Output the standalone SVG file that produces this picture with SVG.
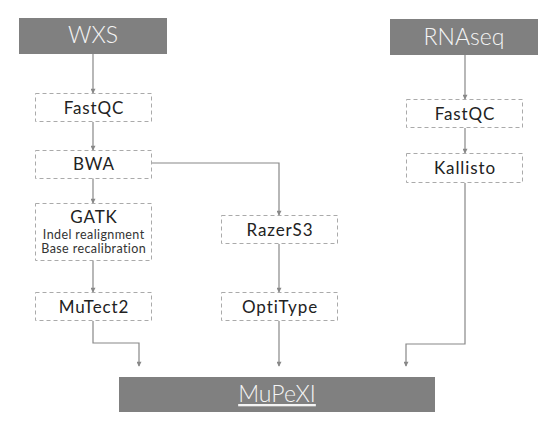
<svg xmlns="http://www.w3.org/2000/svg" width="556" height="431" viewBox="0 0 556 431">
<style>
.hdr{fill:#808080}
.ht{fill:#f4f4f4;font-family:Lato,"Noto Sans",sans-serif;font-weight:300;text-anchor:middle}
.box{fill:#fff;stroke:#aaa;stroke-width:1;stroke-dasharray:4,3}
.t{fill:#222;font-family:Lato,"Noto Sans",sans-serif;font-weight:400;font-size:17px;letter-spacing:0.9px;text-anchor:middle}
.s{font-size:12.5px;letter-spacing:0.4px;fill:#333}
.c{fill:none;stroke:#888;stroke-width:1.2}
</style>
<defs>
<marker id="a" markerUnits="userSpaceOnUse" markerWidth="6" markerHeight="5" refX="5" refY="3" orient="auto" viewBox="0 0 6 6">
<path d="M0,0 L6,3 L0,6 z" fill="#888"/>
</marker>
</defs>
<rect width="556" height="431" fill="#fff"/>
<g id="connectors">
<path class="c" d="M93,54 V93" marker-end="url(#a)"/>
<path class="c" d="M93,122 V150" marker-end="url(#a)"/>
<path class="c" d="M93,178 V203" marker-end="url(#a)"/>
<path class="c" d="M93,261 V292" marker-end="url(#a)"/>
<path class="c" d="M93,321 V343 H139 V366" marker-end="url(#a)"/>
<path class="c" d="M152,163 H279 V215" marker-end="url(#a)"/>
<path class="c" d="M279,244 V292" marker-end="url(#a)"/>
<path class="c" d="M279,321 V366" marker-end="url(#a)"/>
<path class="c" d="M465,55 V99" marker-end="url(#a)"/>
<path class="c" d="M465,128 V153" marker-end="url(#a)"/>
<path class="c" d="M465,183 V344 H406 V366" marker-end="url(#a)"/>
</g>
<g id="wxs">
<rect class="hdr" x="19" y="18" width="148" height="36"/>
<text class="ht" x="93" y="43" font-size="23">WXS</text>
</g>
<g id="rnaseq">
<rect class="hdr" x="390" y="19" width="148" height="36"/>
<text class="ht" x="464" y="45" font-size="23">RNAseq</text>
</g>
<g id="fastqc1">
<rect class="box" x="35.5" y="93.5" width="116" height="28"/>
<text class="t" x="94" y="113.5">FastQC</text>
</g>
<g id="bwa">
<rect class="box" x="35.5" y="150.5" width="116" height="28"/>
<text class="t" x="94" y="170">BWA</text>
</g>
<g id="gatk">
<rect class="box" x="35.5" y="203.5" width="116" height="57"/>
<text class="t" x="94" y="223">GATK</text>
<text class="t s" x="93.7" y="239">Indel realignment</text>
<text class="t s" x="93.7" y="253">Base recalibration</text>
</g>
<g id="mutect2">
<rect class="box" x="35.5" y="292.5" width="116" height="28"/>
<text class="t" x="94" y="312.5">MuTect2</text>
</g>
<g id="razers3">
<rect class="box" x="221.5" y="215.5" width="116" height="28"/>
<text class="t" x="280" y="235.5">RazerS3</text>
</g>
<g id="optitype">
<rect class="box" x="221.5" y="292.5" width="116" height="28"/>
<text class="t" x="280" y="312.5">OptiType</text>
</g>
<g id="fastqc2">
<rect class="box" x="406.5" y="99.5" width="116" height="28"/>
<text class="t" x="465" y="119.5">FastQC</text>
</g>
<g id="kallisto">
<rect class="box" x="406.5" y="153.5" width="116" height="29"/>
<text class="t" x="465" y="174">Kallisto</text>
</g>
<g id="mupexi">
<rect class="hdr" x="119" y="377" width="316" height="35"/>
<text class="ht" x="277" y="402" font-size="23" text-decoration="underline">MuPeXI</text>
</g>
</svg>
